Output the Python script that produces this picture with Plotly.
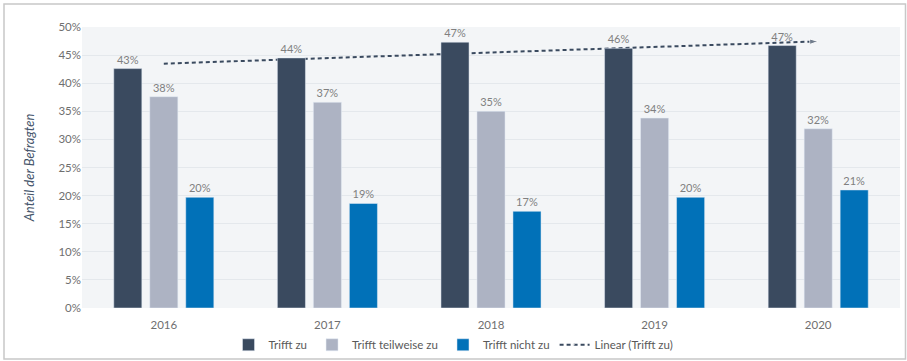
import numpy as np
import plotly.graph_objects as go

years = ["2016", "2017", "2018", "2019", "2020"]
trifft_zu = [42.6, 44.5, 47.3, 46.2, 46.7]
trifft_teilweise = [37.6, 36.6, 35.0, 33.8, 31.9]
trifft_nicht = [19.7, 18.6, 17.2, 19.7, 21.0]
y_ticks = [0, 5, 10, 15, 20, 25, 30, 35, 40, 45, 50]

W, H = 907, 361
ML, MR, MT, MB = 82, 7, 27, 53
pw, ph = W - ML - MR, H - MT - MB

# linear trend of "Trifft zu"
xi = np.arange(len(years))
slope, inter = np.polyfit(xi, trifft_zu, 1)
trend = list(inter + slope * xi)

FONT = "Lato"
fig = go.Figure()
series = [
    ("Trifft zu", trifft_zu, "#3a4a5f"),
    ("Trifft teilweise zu", trifft_teilweise, "#adb3c3"),
    ("Trifft nicht zu", trifft_nicht, "#0171b8"),
]
for name, vals, col in series:
    fig.add_trace(go.Bar(
        x=years, y=vals, name=name, marker_color=col, yaxis="y2",
        text=[f"{round(v)}%" for v in vals], textposition="outside",
        textfont=dict(size=11, color="#808080", family=FONT),
        cliponaxis=False,
    ))
fig.add_trace(go.Scatter(
    x=years, y=trend, name="Linear (Trifft zu)", mode="lines+markers",
    line=dict(color="#3a4a5f", width=2, dash="4px,3px"),
    marker=dict(symbol="arrow", angleref="previous",
                size=[0] * (len(years) - 1) + [9], color="#3a4a5f"),
    yaxis="y",
))

fig.update_layout(
    width=W, height=H,
    margin=dict(l=ML, r=MR, t=MT, b=MB, autoexpand=False),
    paper_bgcolor="white", plot_bgcolor="#f3f5f7",
    barmode="group", bargap=0.34, bargroupgap=0.22,
    font=dict(family=FONT, size=11, color="#6f6f6f"),
    xaxis=dict(range=[-0.5, 4.5], showgrid=False, zeroline=False,
               tickfont=dict(size=11.5, color="#6f6f6f"), ticks="outside",
               ticklen=6, tickcolor="rgba(0,0,0,0)"),
    yaxis=dict(range=[0, 50], tickvals=y_ticks,
               ticktext=[f"{t}%" for t in y_ticks],
               showgrid=True, gridcolor="#e4e8ec", gridwidth=1, zeroline=False,
               tickfont=dict(size=11.5, color="#6f6f6f"), ticks="",
               title=dict(text="<i>Anteil der Befragten</i>",
                          font=dict(size=13, color="#44546a"), standoff=20)),
    yaxis2=dict(range=[0, 50], overlaying="y", visible=False),
    legend=dict(orientation="h", xref="container", yref="container",
                x=0.5, xanchor="center", y=0.045, yanchor="middle",
                font=dict(size=11.5, color="#595959"), traceorder="normal",
                itemwidth=30, bgcolor="rgba(0,0,0,0)"),
    showlegend=True,
)

# outer frame
fig.add_shape(type="rect", xref="paper", yref="paper",
              x0=(4 - ML) / pw, x1=(W - 1.5 - ML) / pw,
              y0=(MT + ph - (H - 2)) / ph, y1=(MT + ph - 4) / ph,
              line=dict(color="#c8c8c8", width=1.5), layer="below")

fig.write_html("out.html", config={"displayModeBar": False},
               post_script="document.body.style.margin='0';document.body.style.overflow='hidden';")
